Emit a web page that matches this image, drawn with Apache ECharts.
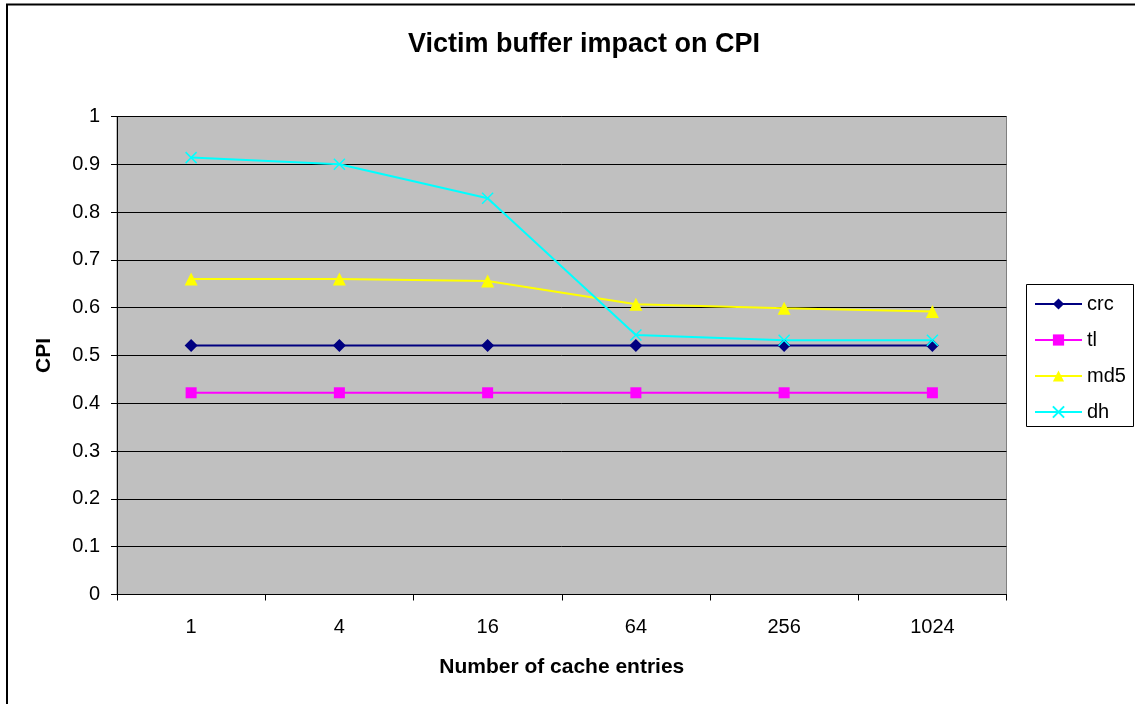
<!DOCTYPE html>
<html>
<head>
<meta charset="utf-8">
<script src="https://cdn.jsdelivr.net/npm/echarts@6/dist/echarts.min.js"></script>
<style>
html,body{margin:0;padding:0;background:#fff;}
#chart{width:1135px;height:704px;}
</style>
</head>
<body>
<div id="chart"></div>
<script>
const categories = ['1', '4', '16', '64', '256', '1024'];
const crc = [0.521, 0.521, 0.521, 0.521, 0.521, 0.521];
const tl  = [0.422, 0.422, 0.422, 0.422, 0.422, 0.422];
const md5 = [0.660, 0.660, 0.656, 0.607, 0.599, 0.592];
const dh  = [0.914, 0.900, 0.829, 0.543, 0.532, 0.532];
const yTicks = [0, 0.1, 0.2, 0.3, 0.4, 0.5, 0.6, 0.7, 0.8, 0.9, 1];

const FONT = 'Liberation Sans, Arial, sans-serif';
const chart = echarts.init(document.getElementById('chart'), null, {renderer: 'canvas'});

function mk(name, data, color, symbol, size, extra) {
  return Object.assign({
    name: name,
    type: 'line',
    data: data,
    symbol: symbol,
    symbolSize: size,
    showSymbol: true,
    animation: false,
    lineStyle: {color: color, width: 2},
    itemStyle: {color: color},
    emphasis: {disabled: true}
  }, extra || {});
}

const option = {
  animation: false,
  backgroundColor: '#ffffff',
  title: {
    text: 'Victim buffer impact on CPI',
    left: 408,
    top: 31,
    padding: 0,
    textStyle: {fontFamily: FONT, fontSize: 27, fontWeight: 'bold', color: '#000'}
  },
  grid: {
    left: 117, right: 128.5, top: 116.5, bottom: 109.5,
    show: true, backgroundColor: '#C0C0C0', borderColor: '#808080', borderWidth: 1,
    containLabel: false
  },
  legend: {
    orient: 'vertical',
    left: 1034,
    top: 294,
    padding: 0,
    itemWidth: 47,
    itemHeight: 14,
    itemGap: 16,
    textStyle: {fontFamily: FONT, fontSize: 20, color: '#000'},
    data: ['crc', 'tl', 'md5', 'dh']
  },
  xAxis: {
    type: 'category',
    data: categories,
    boundaryGap: true,
    name: 'Number of cache entries',
    nameLocation: 'middle',
    nameGap: 62,
    nameTextStyle: {fontFamily: FONT, fontSize: 21, fontWeight: 'bold', color: '#000'},
    axisLine: {show: true, lineStyle: {color: '#000', width: 1}},
    axisTick: {show: true, length: 6, inside: false, lineStyle: {color: '#000'}},
    axisLabel: {margin: 23, fontFamily: FONT, fontSize: 20, color: '#000'},
    splitLine: {show: false}
  },
  yAxis: {
    type: 'value',
    min: 0, max: 1, interval: 0.1,
    name: 'CPI',
    nameLocation: 'middle',
    nameGap: 62,
    nameTextStyle: {fontFamily: FONT, fontSize: 21, fontWeight: 'bold', color: '#000'},
    axisLine: {show: true, lineStyle: {color: '#000', width: 1}},
    axisTick: {show: true, length: 6, inside: false, lineStyle: {color: '#000'}},
    axisLabel: {
      margin: 17, fontFamily: FONT, fontSize: 20, color: '#000',
      formatter: function (v) {
        const t = yTicks.find(x => Math.abs(x - v) < 1e-9);
        return String(t !== undefined ? t : v);
      }
    },
    splitLine: {show: true, lineStyle: {color: '#000', width: 1}}
  },
  graphic: [
    {type: 'rect', z: -10, silent: true,
     shape: {x: 7, y: 4.5, width: 1200, height: 800},
     style: {fill: 'none', stroke: '#000', lineWidth: 2}},
    {type: 'rect', z: -1, silent: true,
     shape: {x: 1026.5, y: 284.5, width: 107, height: 142},
     style: {fill: '#fff', stroke: '#000', lineWidth: 1}}
  ],
  series: [
    mk('crc', crc, '#000080', 'diamond', 13),
    mk('tl', tl, '#FF00FF', 'rect', 11),
    mk('md5', md5, '#FFFF00', 'triangle', 13),
    mk('dh', dh, '#00FFFF', 'path://M0,0L10,10M10,0L0,10', 11,
       {itemStyle: {color: '#00FFFF', borderColor: '#00FFFF', borderWidth: 1.5}})
  ]
};
chart.setOption(option);
</script>
</body>
</html>
